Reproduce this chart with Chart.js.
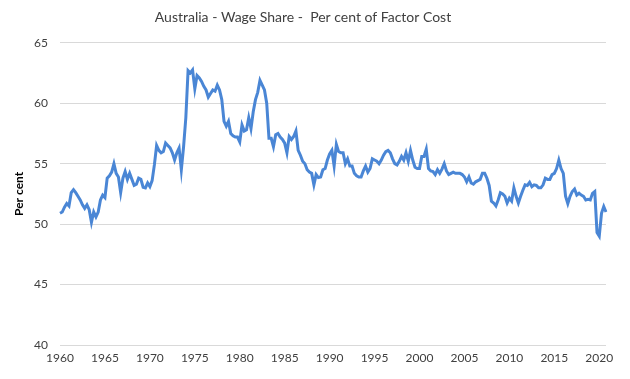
<!DOCTYPE html>
<html>
<head>
<meta charset="utf-8">
<script src="https://cdn.jsdelivr.net/npm/chart.js@4.4.1/dist/chart.umd.min.js"></script>
<style>
  html, body { margin: 0; padding: 0; background: #fff; }
  #wrap { width: 630px; height: 379px; }
</style>
</head>
<body>
<div id="wrap"><canvas id="wageChart" width="630" height="379"></canvas></div>
<script>
// Quarterly wage share, starting 1960 Q1
const startYear = 1960;
const wageShare = [
  50.9, 51.0, 51.4, 51.7, 51.5, 52.6, 52.85, 52.6, 52.3, 52.0,
  51.6, 51.3, 51.6, 51.2, 50.15, 51.0, 50.6, 51.0, 52.0, 52.4,
  52.2, 53.8, 54.0, 54.3, 55.0, 54.2, 53.9, 52.6, 53.8, 54.35,
  53.7, 54.2, 53.7, 53.2, 53.3, 53.8, 53.7, 53.05, 53.0, 53.4,
  53.1, 53.6, 54.9, 56.5, 56.1, 55.9, 56.0, 56.7, 56.5, 56.3,
  55.9, 55.3, 55.9, 56.3, 54.5, 56.4, 58.8, 62.7, 62.5, 62.75,
  61.2, 62.3, 62.1, 61.8, 61.4, 61.1, 60.5, 60.8, 61.1, 61.0,
  61.5, 61.1, 60.3, 58.5, 58.1, 58.5, 57.5, 57.3, 57.2, 57.2,
  56.8, 58.2, 57.7, 57.8, 58.8, 57.9, 59.3, 60.3, 60.9, 61.9,
  61.5, 61.1, 60.0, 57.1, 57.1, 56.4, 57.4, 57.5, 57.2, 57.0,
  56.7, 55.9, 57.25, 57.0, 57.25, 57.7, 56.1, 55.7, 55.2, 55.0,
  54.5, 54.3, 54.2, 53.25, 54.1, 53.85, 53.9, 54.5, 54.6, 55.3,
  55.8, 56.1, 54.8, 56.6, 56.0, 55.9, 55.9, 55.0, 55.4, 54.8,
  54.8, 54.2, 54.0, 53.9, 53.9, 54.4, 54.8, 54.3, 54.6, 55.4,
  55.3, 55.2, 55.0, 55.3, 55.7, 56.0, 56.1, 55.9, 55.4, 55.0,
  54.9, 55.2, 55.6, 55.3, 55.9, 55.2, 56.1, 55.3, 54.7, 54.6,
  54.6, 55.6, 55.6, 56.2, 54.6, 54.4, 54.35, 54.1, 54.5, 54.2,
  54.55, 55.0, 54.4, 54.1, 54.2, 54.3, 54.2, 54.2, 54.2, 54.1,
  53.9, 53.5, 53.9, 53.4, 53.3, 53.5, 53.6, 53.7, 54.2, 54.2,
  53.8, 53.2, 51.9, 51.75, 51.5, 52.0, 52.6, 52.5, 52.3, 51.75,
  52.15, 51.9, 53.0, 52.3, 51.75, 52.3, 52.8, 53.25, 53.2, 53.45,
  53.1, 53.25, 53.2, 53.0, 53.0, 53.25, 53.8, 53.7, 53.7, 54.1,
  54.2, 54.6, 55.3, 54.6, 54.2, 52.3, 51.7, 52.3, 52.7, 52.9,
  52.4, 52.55, 52.4, 52.3, 52.0, 52.05, 52.0, 52.55, 52.7, 49.3,
  49.0, 50.9, 51.45, 51.0
];
const quarterLabels = wageShare.map(function(v, i) {
  return (startYear + Math.floor(i / 4)) + ' Q' + (i % 4 + 1);
});
const yTicks = [40, 45, 50, 55, 60, 65];

const fontFamily = 'Lato, "Liberation Sans", sans-serif';

new Chart(document.getElementById('wageChart'), {
  type: 'line',
  data: {
    labels: quarterLabels,
    datasets: [{
      label: 'Wage share',
      data: wageShare,
      borderColor: '#4a86d5',
      borderWidth: 3,
      pointRadius: 0,
      tension: 0,
      fill: false
    }]
  },
  options: {
    responsive: false,
    animation: false,
    layout: { padding: { left: 0, right: 24, top: 0, bottom: 0 } },
    plugins: {
      legend: { display: false },
      tooltip: { enabled: false },
      title: {
        display: true,
        text: 'Australia - Wage Share -  Per cent of Factor Cost',
        color: '#404040',
        font: { family: fontFamily, size: 14, weight: 'normal' },
        padding: { top: 9, bottom: 17 }
      }
    },
    scales: {
      x: {
        type: 'category',
        offset: false,
        grid: { display: false, drawTicks: false },
        border: { display: false },
        ticks: {
          autoSkip: false,
          maxRotation: 0,
          padding: 6,
          color: '#404040',
          font: { family: fontFamily, size: 12 },
          callback: function(value, index) {
            return index % 20 === 0 ? String(startYear + index / 4) : null;
          }
        },
        afterFit: function(scale) { scale.height = 34; }
      },
      y: {
        min: 40,
        max: 65,
        grid: { color: '#d9d9d9', drawTicks: false, lineWidth: 1 },
        border: { display: false },
        afterBuildTicks: function(scale) {
          scale.ticks = yTicks.map(function(v) { return { value: v }; });
        },
        ticks: {
          padding: 12,
          color: '#404040',
          font: { family: fontFamily, size: 12 }
        },
        title: {
          display: true,
          text: 'Per cent',
          color: '#000',
          font: { family: fontFamily, size: 12, weight: 'bold' },
          padding: { top: 12, bottom: 0 }
        },
        afterFit: function(scale) { scale.width = 60; }
      }
    }
  }
});
</script>
</body>
</html>
